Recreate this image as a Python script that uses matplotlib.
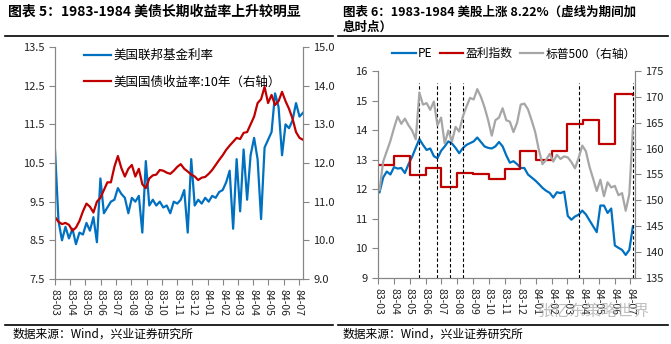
import matplotlib
matplotlib.use('Agg')
import matplotlib.pyplot as plt
import matplotlib.dates as mdates
import pandas as pd
from matplotlib.lines import Line2D

plt.rcParams['font.family'] = ['Noto Sans CJK SC', 'DejaVu Sans']

# ---- chart 5: fed funds rate vs 10y treasury yield (weekly, from 1983-03-01) ----
fed_funds = [10.84, 9.0, 8.5, 8.85, 8.55, 8.8, 8.4, 8.7, 8.65, 8.95, 8.75, 9.1,
             8.45, 10.1, 9.2, 9.35, 9.5, 9.55, 9.85, 9.7, 9.6, 9.2, 9.6, 9.5,
             9.65, 8.7, 10.55, 9.4, 9.55, 9.4, 9.5, 9.35, 9.4, 9.2, 9.5, 9.45,
             9.55, 9.8, 8.7, 10.6, 9.4, 9.55, 9.45, 9.6, 9.5, 9.65, 9.6, 9.75,
             9.8, 10.0, 10.3, 8.8, 10.6, 9.25, 10.85, 9.55, 10.7, 11.15, 10.6, 9.05,
             10.9, 11.1, 11.3, 12.3, 11.95, 10.7, 11.5, 11.4, 11.6, 12.05, 11.7, 11.8]
ust10y = [10.6, 10.48, 10.42, 10.45, 10.4, 10.25, 10.33, 10.5, 10.75, 10.95, 10.87, 10.72,
          11.0, 11.1, 11.3, 11.5, 11.5, 11.9, 12.18, 11.87, 11.65, 11.85, 11.95, 11.65,
          11.85, 11.45, 11.35, 11.6, 11.68, 11.7, 11.82, 11.8, 11.75, 11.72, 11.8, 11.9,
          11.97, 11.85, 11.78, 11.7, 11.65, 11.56, 11.62, 11.64, 11.72, 11.82, 11.95, 12.08,
          12.2, 12.34, 12.45, 12.55, 12.65, 12.62, 12.78, 12.8, 13.0, 13.2, 13.55, 13.65,
          13.97, 13.55, 13.76, 13.5, 13.6, 13.84, 13.6, 13.4, 13.15, 12.8, 12.65, 12.6]
dates5 = pd.date_range('1983-03-01', periods=len(fed_funds), freq='7D')

# ---- chart 6: PE, earnings index, S&P 500 (weekly, from 1983-03-04) ----
pe = [11.9, 12.4, 12.6, 12.5, 12.75, 12.7, 12.72, 12.55, 12.85, 13.1, 13.4, 13.7,
      13.5, 13.33, 13.38, 13.12, 13.05, 13.3, 13.45, 13.62, 13.55, 13.4, 13.22, 13.39,
      13.5, 13.56, 13.62, 13.75, 13.6, 13.45, 13.4, 13.38, 13.45, 13.6, 13.45, 13.15,
      12.9, 12.95, 12.85, 12.72, 12.72, 12.5, 12.4, 12.3, 12.18, 12.05, 11.95, 11.88,
      11.72, 11.9, 11.87, 11.92, 11.1, 10.97, 11.08, 11.14, 11.28, 11.15, 10.95, 10.75,
      10.55, 11.45, 11.45, 11.2, 11.35, 10.1, 10.02, 9.95, 9.78, 9.95, 10.75]
spx = [152.0, 157.5, 159.5, 161.5, 164.0, 166.2, 164.8, 165.8, 164.5, 163.5, 161.8, 170.8,
       168.5, 168.8, 167.5, 169.1, 164.5, 166.0, 161.0, 163.5, 161.4, 164.2, 163.3, 166.2,
       168.1, 169.8, 169.5, 171.5, 170.0, 168.0, 165.5, 162.5, 165.5, 166.0, 167.8, 165.5,
       165.2, 163.2, 165.0, 168.5, 168.7, 167.6, 165.5, 163.2, 159.8, 157.0, 157.8, 159.0,
       157.5, 158.8, 158.0, 158.5, 158.3, 157.4, 156.2, 158.2, 160.6, 159.5, 156.5, 154.2,
       151.8, 154.0, 150.8, 153.5, 152.5, 152.8, 151.0, 151.4, 148.0, 151.2, 164.0]
dates6 = pd.date_range('1983-03-04', periods=len(pe), freq='7D')

earn_dates = ['1983-03-01', '1983-04-01', '1983-05-01', '1983-06-01', '1983-07-01',
              '1983-08-01', '1983-09-01', '1983-10-01', '1983-11-01', '1983-12-01',
              '1984-01-01', '1984-02-01', '1984-03-01', '1984-04-01', '1984-05-01',
              '1984-06-01', '1984-07-06']
earnings = [12.82, 13.14, 12.49, 12.71, 12.09, 12.56, 12.52, 12.34, 12.68, 13.31,
            13.0, 13.31, 14.21, 14.34, 13.53, 15.22, 15.18]

hike_dates = ['1983-05-20', '1983-06-23', '1983-07-19', '1983-08-13', '1984-03-24', '1984-07-06']

BLUE = '#0070C0'
RED = '#C00000'
GRAY = '#A6A6A6'
AXIS = '#868686'
x_start, x_end = pd.Timestamp('1983-03-01'), pd.Timestamp('1984-07-10')

fig = plt.figure(figsize=(6.71, 3.44), dpi=100)


def style_axes(ax, ax2):
    for a in (ax, ax2):
        a.spines['top'].set_visible(False)
        for s in ('left', 'right', 'bottom'):
            a.spines[s].set_color(AXIS)
        a.tick_params(colors=AXIS, labelcolor='#222222', labelsize=8, length=4, width=0.8)
    ax.set_xlim(x_start, x_end)
    ax.xaxis.set_major_locator(mdates.MonthLocator())
    ax.xaxis.set_major_formatter(mdates.DateFormatter('%y-%m'))
    for lbl in ax.get_xticklabels():
        lbl.set_rotation(-90)
        lbl.set_fontsize(7.5)


# chart 5
ax = fig.add_axes([55 / 671, 1 - 279 / 344, 248 / 671, 232 / 344])
ax2 = ax.twinx()
l1, = ax.plot(dates5, fed_funds, color=BLUE, lw=1.6, label='美国联邦基金利率')
l2, = ax2.plot(dates5, ust10y, color=RED, lw=1.6, label='美国国债收益率:10年（右轴）')
ax.set_ylim(7.5, 13.5)
ax.set_yticks([7.5, 8.5, 9.5, 10.5, 11.5, 12.5, 13.5])
ax2.set_ylim(9.0, 15.0)
ax2.set_yticks([9, 10, 11, 12, 13, 14, 15])
ax.yaxis.set_major_formatter(matplotlib.ticker.FormatStrFormatter('%.1f'))
ax2.yaxis.set_major_formatter(matplotlib.ticker.FormatStrFormatter('%.1f'))
style_axes(ax, ax2)
ax.legend(handles=[l1, l2], loc='upper left', bbox_to_anchor=(0.07, 1.04), frameon=False,
          fontsize=9, handlelength=2.2, handletextpad=0.2, labelspacing=1.1)

# chart 6
bx = fig.add_axes([378 / 671, 1 - 278 / 344, 257 / 671, 207 / 344])
bx2 = bx.twinx()
p1, = bx.plot(dates6, pe, color=BLUE, lw=1.6, label='PE')
p2, = bx.step(pd.to_datetime(earn_dates), earnings, where='post', color=RED, lw=1.6, label='盈利指数')
p3, = bx2.plot(dates6, spx, color=GRAY, lw=1.6, label='标普500（右轴）')
bx.vlines(pd.to_datetime(hike_dates), 9, 15.6, colors='black', linestyles=(0, (3, 2)), lw=0.8)
bx.set_ylim(9, 16)
bx.set_yticks(range(9, 17))
bx2.set_ylim(135, 175)
bx2.set_yticks(range(135, 176, 5))
style_axes(bx, bx2)
bx.legend(handles=[p1, p2, p3], loc='lower center', bbox_to_anchor=(0.53, 1.0), ncol=3,
          frameon=False, fontsize=8.5, handlelength=2.0, handletextpad=0.2, columnspacing=0.6)

# titles, rules, sources
fig.text(8 / 671, 1 - 12 / 344, '图表 5：1983-1984 美债长期收益率上升较明显',
         fontsize=10, fontweight='bold', va='center')
fig.text(343 / 671, 1 - 12 / 344, '图表 6：1983-1984 美股上涨 8.22%（虚线为期间加',
         fontsize=9.0, fontweight='bold', va='center')
fig.text(343 / 671, 1 - 27 / 344, '息时点）', fontsize=9.0, fontweight='bold', va='center')
for x0, x1 in ((5, 333), (338, 668)):
    for yy in (36, 325):
        fig.add_artist(Line2D([x0 / 671, x1 / 671], [1 - yy / 344] * 2, color='black', lw=1.2))
fig.text(13 / 671, 1 - 334 / 344, '数据来源：Wind，兴业证券研究所', fontsize=8.5, va='center')
fig.text(343 / 671, 1 - 334 / 344, '数据来源：Wind，兴业证券研究所', fontsize=8.5, va='center')
fig.text(538 / 671, 1 - 311 / 344, '张忆东策略世界', fontsize=11.5, color='#B0B0B0',
         alpha=0.8, va='center')

fig.savefig('out.png', dpi=100)
